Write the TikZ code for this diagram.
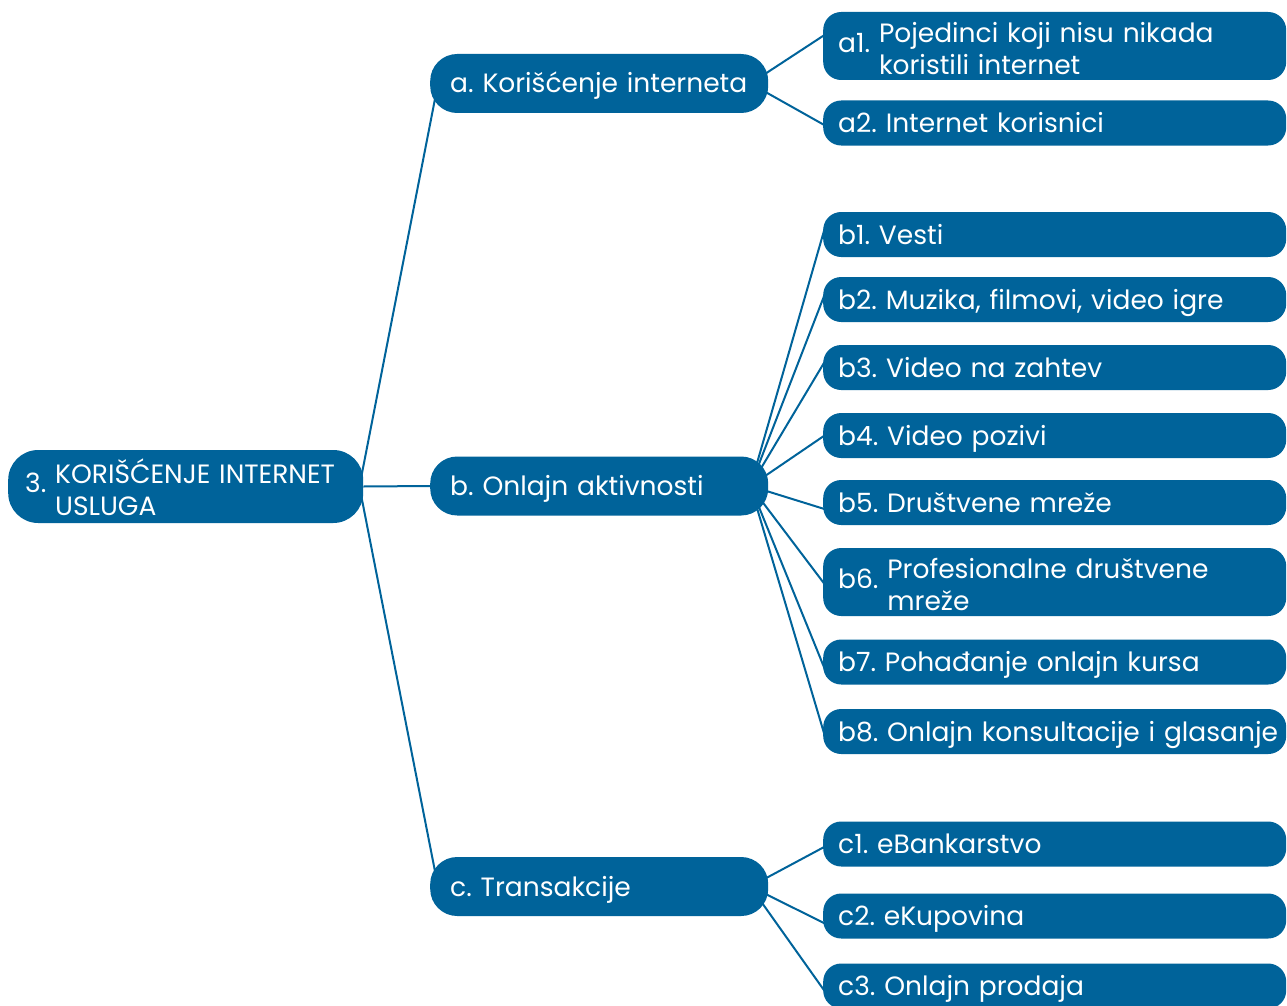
\documentclass[tikz,border=0pt]{standalone}
\usepackage{fontspec}
\setmainfont{Poppins}
\usepackage{tikz}
\usetikzlibrary{backgrounds}
\frenchspacing
\hbadness=10000
\hfuzz=30pt

\definecolor{mapblue}{RGB}{0,99,154}

\tikzset{
  box/.style={fill=mapblue, text=white, anchor=west, align=left,
    font=\fontsize{26.5}{32}\selectfont},
  rootbox/.style={box, rounded corners=30pt, minimum height=73pt,
    inner xsep=17pt, inner ysep=2pt, text width=321pt},
  topicbox/.style={box, rounded corners=27pt, minimum height=59pt,
    inner xsep=20pt, text width=298pt, text height=22pt, text depth=3pt},
  itembox/.style={box, rounded corners=18pt, minimum height=45pt,
    inner xsep=15pt, text width=433pt, text height=22pt, text depth=3pt},
  tallitembox/.style={box, rounded corners=18pt, minimum height=68pt,
    inner xsep=15pt, inner ysep=2pt, text width=433pt},
  link/.style={draw=mapblue, line width=2pt}
}

\begin{document}
\begin{tikzpicture}[x=1pt,y=1pt,yscale=-1]
\useasboundingbox (0,0) rectangle (1287,1006);

% Root node
\node[rootbox] (root) at (8,486.5) {3.\ \raisebox{-5pt}[\height][\depth]{\begin{tabular}[c]{@{}l@{}}KORIŠĆENJE INTERNET\\USLUGA\end{tabular}}};

% Topic nodes
\node[topicbox] (topa) at (430,83.5) {a. Korišćenje interneta};
\node[topicbox] (topb) at (430,486) {b. Onlajn aktivnosti};
\node[topicbox] (topc) at (430,886.5) {c. Transakcije};

% Items of a
\node[tallitembox] (a1) at (823,46) {a1.\ \raisebox{-6pt}[\height][\depth]{\begin{tabular}[c]{@{}l@{}}Pojedinci koji nisu nikada\\koristili internet\end{tabular}}};
\node[itembox] (a2) at (823,123) {a2. Internet korisnici};

% Items of b
\node[itembox] (b1) at (823,234.5) {b1. Vesti};
\node[itembox] (b2) at (823,299.5) {b2. Muzika, filmovi, video igre};
\node[itembox] (b3) at (823,367.5) {b3. Video na zahtev};
\node[itembox] (b4) at (823,435.5) {b4. Video pozivi};
\node[itembox] (b5) at (823,502.5) {b5. Društvene mreže};
\node[tallitembox] (b6) at (823,582) {b6.\ \raisebox{-6pt}[\height][\depth]{\begin{tabular}[c]{@{}l@{}}Profesionalne društvene\\mreže\end{tabular}}};
\node[itembox] (b7) at (823,662) {b7. Pohađanje onlajn kursa};
\node[itembox] (b8) at (823,731.5) {\mbox{b8. Onlajn konsultacije i glasanje}};

% Items of c
\node[itembox] (c1) at (823,844) {c1. eBankarstvo};
\node[itembox] (c2) at (823,916) {c2. eKupovina};
\node[itembox] (c3) at (823,986) {c3. Onlajn prodaja};

% Connectors
\begin{scope}[on background layer]
\draw[link] ([xshift=-4pt]root.east) -- ([xshift=8pt]topa.west);
\draw[link] (root.east) -- (topb.west);
\draw[link] ([xshift=-4pt]root.east) -- ([xshift=8pt]topc.west);

\draw[link] ([xshift=-18pt]topa.east) -- ([xshift=3pt,yshift=-12pt]a1.west);
\draw[link] ([xshift=-18pt]topa.east) -- ([xshift=3pt,yshift=3pt]a2.west);

\draw[link] ([xshift=-18pt]topb.east) -- ([xshift=4pt,yshift=-14pt]b1.west);
\draw[link] ([xshift=-18pt]topb.east) -- ([xshift=4pt,yshift=-11pt]b2.west);
\draw[link] ([xshift=-18pt]topb.east) -- ([xshift=3pt,yshift=-8pt]b3.west);
\draw[link] ([xshift=-18pt]topb.east) -- ([xshift=3pt,yshift=-1pt]b4.west);
\draw[link] ([xshift=-18pt]topb.east) -- ([xshift=3pt,yshift=7pt]b5.west);
\draw[link] ([xshift=-18pt]topb.east) -- ([xshift=3pt,yshift=4pt]b6.west);
\draw[link] ([xshift=-18pt]topb.east) -- ([xshift=5pt,yshift=15pt]b7.west);
\draw[link] ([xshift=-18pt]topb.east) -- ([xshift=5pt,yshift=15pt]b8.west);

\draw[link] ([xshift=-18pt]topc.east) -- ([xshift=3pt,yshift=2pt]c1.west);
\draw[link] ([xshift=-18pt]topc.east) -- ([xshift=3pt,yshift=8pt]c2.west);
\draw[link] ([xshift=-18pt]topc.east) -- ([xshift=3pt,yshift=7pt]c3.west);
\end{scope}

\end{tikzpicture}
\end{document}
